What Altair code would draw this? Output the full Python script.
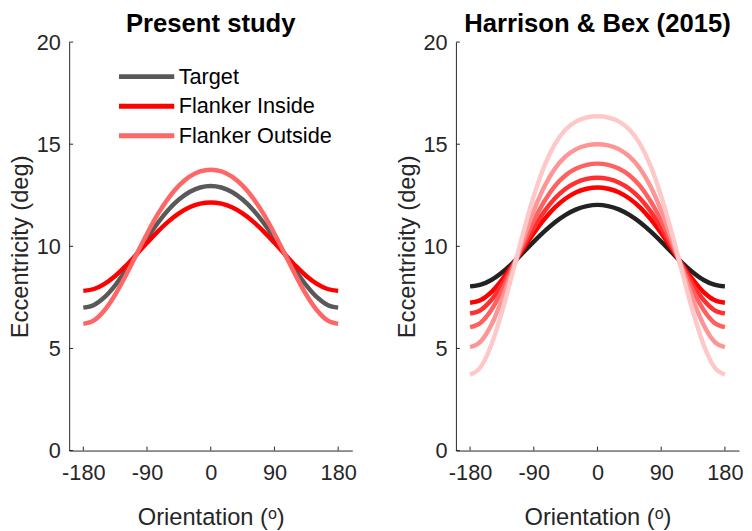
import altair as alt
import pandas as pd

# ---------------- data ----------------
theta = [-180, -165, -150, -135, -120, -105, -90, -75, -60, -45, -30, -15, 0,
         15, 30, 45, 60, 75, 90, 105, 120, 135, 150, 165, 180]

# Left panel: Present study
left_target = [7.00, 7.13, 7.51, 8.09, 8.81, 9.60, 10.40, 11.14, 11.78, 12.29, 12.66, 12.88, 12.95,
               12.88, 12.66, 12.29, 11.78, 11.14, 10.40, 9.60, 8.81, 8.09, 7.51, 7.13, 7.00]
left_inside = [7.82, 7.91, 8.16, 8.55, 9.04, 9.60, 10.17, 10.72, 11.21, 11.61, 11.91, 12.09, 12.15,
               12.09, 11.91, 11.61, 11.21, 10.72, 10.17, 9.60, 9.04, 8.55, 8.16, 7.91, 7.82]
left_outside = [6.20, 6.37, 6.87, 7.63, 8.57, 9.60, 10.62, 11.56, 12.35, 12.97, 13.41, 13.67, 13.75,
                13.67, 13.41, 12.97, 12.35, 11.56, 10.62, 9.60, 8.57, 7.63, 6.87, 6.37, 6.20]
left_names = ["Target", "Flanker Inside", "Flanker Outside"]
left_colors = ["#595959", "#ff0000", "#ff6666"]

# Right panel: Harrison & Bex (2015)
hb_c0 = [8.04, 8.12, 8.35, 8.72, 9.18, 9.70, 10.23, 10.73, 11.18, 11.54, 11.81, 11.97, 12.03,
         11.97, 11.81, 11.54, 11.18, 10.73, 10.23, 9.70, 9.18, 8.72, 8.35, 8.12, 8.04]
hb_c1 = [7.24, 7.37, 7.76, 8.36, 9.09, 9.87, 10.64, 11.33, 11.91, 12.34, 12.65, 12.82, 12.88,
         12.82, 12.65, 12.34, 11.91, 11.33, 10.64, 9.87, 9.09, 8.36, 7.76, 7.37, 7.24]
hb_c2 = [6.71, 6.88, 7.37, 8.12, 9.03, 9.99, 10.91, 11.71, 12.35, 12.82, 13.13, 13.30, 13.36,
         13.30, 13.13, 12.82, 12.35, 11.71, 10.91, 9.99, 9.03, 8.12, 7.37, 6.88, 6.71]
hb_c3 = [6.04, 6.26, 6.88, 7.82, 8.95, 10.14, 11.26, 12.21, 12.96, 13.48, 13.81, 13.99, 14.05,
         13.99, 13.81, 13.48, 12.96, 12.21, 11.26, 10.14, 8.95, 7.82, 6.88, 6.26, 6.04]
hb_c4 = [5.06, 5.34, 6.15, 7.38, 8.84, 10.35, 11.75, 12.93, 13.81, 14.40, 14.76, 14.94, 15.00,
         14.94, 14.76, 14.40, 13.81, 12.93, 11.75, 10.35, 8.84, 7.38, 6.15, 5.34, 5.06]
hb_c5 = [3.72, 4.09, 5.17, 6.78, 8.69, 10.66, 12.46, 13.94, 15.02, 15.72, 16.12, 16.31, 16.37,
         16.31, 16.12, 15.72, 15.02, 13.94, 12.46, 10.66, 8.69, 6.78, 5.17, 4.09, 3.72]
right_names = ["HB target", "HB flanker 1", "HB flanker 2", "HB flanker 3", "HB flanker 4", "HB flanker 5"]
right_colors = ["#222222", "#ff0000", "#ff3030", "#ff6060", "#ff9494", "#ffc8c8"]

xticks = [-180, -90, 0, 90, 180]
yticks = [0, 5, 10, 15, 20]

# ---------------- styling ----------------
W, H = 287, 414
FONT = "Liberation Sans"
AX = "#262626"


def to_long(names, series):
    rows = []
    for n, s in zip(names, series):
        for t, v in zip(theta, s):
            rows.append({"theta": t, "ecc": v, "series": n})
    return pd.DataFrame(rows)


xscale = alt.Scale(domain=[-200, 200], nice=False, zero=False)
yscale = alt.Scale(domain=[0, 20], nice=False, zero=False)

xaxis = alt.Axis(values=xticks, title="Orientation (ᵒ)", labelExpr="'' + datum.value",
                 labelPadding=12, titlePadding=23)
yaxis = alt.Axis(values=yticks, title="Eccentricity (deg)", labelPadding=9, titlePadding=4)


def panel(df, names, colors, title, legend):
    lines = alt.Chart(df).mark_line(strokeWidth=4.5, interpolate="monotone").encode(
        x=alt.X("theta:Q", scale=xscale, axis=xaxis),
        y=alt.Y("ecc:Q", scale=yscale, axis=yaxis),
        color=alt.Color("series:N", scale=alt.Scale(domain=names, range=colors),
                        sort=names, legend=legend),
    )
    ytick = alt.Chart(pd.DataFrame({"v": yticks})).mark_rule(color=AX, strokeWidth=1).encode(
        y=alt.Y("v:Q", scale=yscale, axis=yaxis),
        x=alt.value(0), x2=alt.value(4),
    )
    xtick = alt.Chart(pd.DataFrame({"t": xticks})).mark_rule(color=AX, strokeWidth=1).encode(
        x=alt.X("t:Q", scale=xscale, axis=xaxis),
        y=alt.value(H), y2=alt.value(H - 4),
    )
    return alt.layer(lines, ytick, xtick).properties(
        width=W, height=H,
        title=alt.TitleParams(title, font=FONT, fontSize=26, fontWeight="bold", color="#000000",
                              anchor="middle", frame="group", offset=-6),
    )


left_legend = alt.Legend(orient="none", legendX=48, legendY=20, title=None,
                         symbolType="stroke", symbolStrokeWidth=5, symbolSize=3136,
                         clipHeight=30, rowPadding=0,
                         labelFont=FONT, labelFontSize=22, labelColor="#000000",
                         labelOffset=2)

left = panel(to_long(left_names, [left_target, left_inside, left_outside]),
             left_names, left_colors, "Present study", left_legend)
right = panel(to_long(right_names, [hb_c0, hb_c1, hb_c2, hb_c3, hb_c4, hb_c5]),
              right_names, right_colors, "Harrison & Bex (2015)", None)

chart = alt.hconcat(left, right, spacing=105, bounds="flush").resolve_scale(
    color="independent"
).properties(padding=0).configure_view(
    stroke=None
).configure_axis(
    grid=False, tickSize=0, domainColor=AX, domainWidth=1,
    labelFont=FONT, labelFontSize=22, labelColor=AX,
    titleFont=FONT, titleFontSize=24, titleFontWeight="normal", titleColor=AX,
)

chart.save("out.html", embed_options={"renderer": "svg", "actions": False})
